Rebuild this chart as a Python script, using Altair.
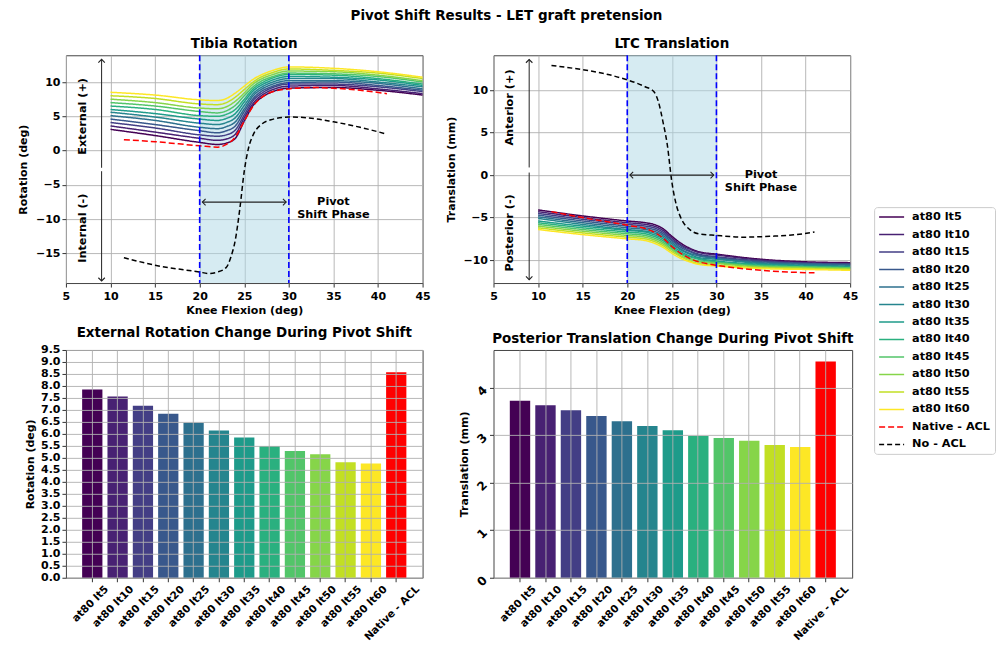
import altair as alt
import pandas as pd

FONT = "DejaVu Sans"

# ---------------- data ----------------
series = ["at80 lt5", "at80 lt10", "at80 lt15", "at80 lt20", "at80 lt25", "at80 lt30",
          "at80 lt35", "at80 lt40", "at80 lt45", "at80 lt50", "at80 lt55", "at80 lt60"]
NATIVE = "Native - ACL"
NOACL = "No - ACL"
viridis = ["#440154", "#482173", "#433e85", "#38588c", "#2d708e", "#25858e",
           "#1e9b8a", "#2ab07f", "#52c569", "#86d549", "#c2df23", "#fde725"]

knee_x = [10, 15, 20, 22, 23, 24, 25, 26, 27, 28, 30, 35, 40, 45]

rot_lt5 = [3.1, 2.2, 1.2, 0.9, 1.1, 1.8, 4.3, 6.6, 7.8, 8.5, 9.1, 9.2, 8.8, 8.1]
rot_lt10 = [3.6, 2.7, 1.8, 1.5, 1.7, 2.4, 4.8, 6.9, 8.1, 8.8, 9.4, 9.5, 9.0, 8.3]
rot_lt15 = [4.1, 3.3, 2.3, 2.1, 2.3, 3.0, 5.2, 7.3, 8.4, 9.1, 9.7, 9.7, 9.3, 8.6]
rot_lt20 = [4.6, 3.8, 2.9, 2.6, 2.9, 3.6, 5.7, 7.6, 8.7, 9.3, 9.9, 10.0, 9.5, 8.8]
rot_lt25 = [5.1, 4.4, 3.4, 3.2, 3.5, 4.2, 6.1, 8.0, 9.0, 9.6, 10.2, 10.2, 9.8, 9.0]
rot_lt30 = [5.6, 4.9, 4.0, 3.8, 4.1, 4.8, 6.6, 8.3, 9.3, 9.9, 10.5, 10.5, 10.0, 9.3]
rot_lt35 = [6.0, 5.4, 4.6, 4.4, 4.7, 5.4, 7.1, 8.7, 9.6, 10.2, 10.8, 10.7, 10.3, 9.5]
rot_lt40 = [6.5, 6.0, 5.1, 5.0, 5.3, 6.0, 7.5, 9.0, 9.9, 10.5, 11.1, 11.0, 10.5, 9.7]
rot_lt45 = [7.0, 6.5, 5.7, 5.5, 5.8, 6.6, 8.0, 9.3, 10.2, 10.7, 11.3, 11.2, 10.8, 10.0]
rot_lt50 = [7.5, 7.0, 6.2, 6.1, 6.4, 7.2, 8.4, 9.7, 10.5, 11.0, 11.6, 11.5, 11.0, 10.2]
rot_lt55 = [8.0, 7.6, 6.8, 6.7, 7.0, 7.8, 8.9, 10.0, 10.8, 11.3, 11.9, 11.7, 11.3, 10.5]
rot_lt60 = [8.5, 8.1, 7.4, 7.3, 7.6, 8.4, 9.4, 10.4, 11.1, 11.6, 12.2, 12.0, 11.5, 10.7]

rot_native_x = [11.5, 15, 20, 22, 23, 24, 25, 26, 27, 28, 30, 33, 35, 38, 41]
rot_native_y = [1.6, 1.3, 0.7, 0.5, 0.9, 2.0, 4.3, 6.5, 7.8, 8.5, 9.0, 9.2, 9.1, 8.8, 8.3]
rot_noacl_x = [11.5, 15, 20, 21, 22, 23, 23.5, 24, 24.5, 25, 25.5, 26, 27, 28, 30, 32, 35, 38, 41]
rot_noacl_y = [-15.6, -16.7, -17.7, -17.9, -17.7, -17.0, -15.5, -13.0, -8.5, -3.0, 0.5, 2.3,
               3.9, 4.5, 4.9, 4.8, 4.2, 3.4, 2.4]

tr_lt5 = [-4.1, -4.8, -5.4, -5.6, -5.8, -6.3, -7.2, -8.0, -8.6, -9.0, -9.3, -9.9, -10.2, -10.3]
tr_lt10 = [-4.3, -5.0, -5.6, -5.8, -6.0, -6.5, -7.4, -8.2, -8.7, -9.1, -9.4, -10.0, -10.3, -10.4]
tr_lt15 = [-4.5, -5.2, -5.8, -6.0, -6.2, -6.7, -7.6, -8.3, -8.9, -9.3, -9.6, -10.1, -10.4, -10.5]
tr_lt20 = [-4.7, -5.4, -6.0, -6.2, -6.4, -6.9, -7.7, -8.5, -9.0, -9.4, -9.7, -10.2, -10.4, -10.5]
tr_lt25 = [-4.9, -5.6, -6.2, -6.4, -6.6, -7.1, -7.9, -8.7, -9.2, -9.5, -9.8, -10.3, -10.5, -10.6]
tr_lt30 = [-5.1, -5.8, -6.4, -6.6, -6.8, -7.3, -8.1, -8.8, -9.3, -9.7, -9.9, -10.4, -10.6, -10.7]
tr_lt35 = [-5.4, -6.0, -6.5, -6.7, -7.0, -7.5, -8.3, -9.0, -9.5, -9.8, -10.1, -10.5, -10.7, -10.8]
tr_lt40 = [-5.6, -6.2, -6.7, -6.9, -7.2, -7.7, -8.5, -9.2, -9.6, -9.9, -10.2, -10.6, -10.8, -10.9]
tr_lt45 = [-5.8, -6.4, -6.9, -7.1, -7.4, -7.9, -8.7, -9.3, -9.8, -10.1, -10.3, -10.7, -10.8, -10.9]
tr_lt50 = [-6.0, -6.6, -7.1, -7.3, -7.6, -8.1, -8.8, -9.5, -9.9, -10.2, -10.4, -10.8, -10.9, -11.0]
tr_lt55 = [-6.2, -6.8, -7.3, -7.5, -7.8, -8.3, -9.0, -9.6, -10.1, -10.4, -10.6, -10.9, -11.0, -11.1]
tr_lt60 = [-6.4, -7.0, -7.5, -7.7, -8.0, -8.5, -9.2, -9.8, -10.2, -10.5, -10.7, -11.0, -11.1, -11.2]

tr_native_x = [11.5, 15, 20, 22, 23, 24, 25, 26, 27, 28, 30, 35, 38, 41]
tr_native_y = [-4.3, -5.0, -5.9, -6.3, -6.7, -7.4, -8.4, -9.2, -9.8, -10.2, -10.6, -11.2, -11.4, -11.5]
tr_noacl_x = [11.5, 15, 18, 20, 22, 23, 23.5, 24, 24.5, 25, 25.5, 26, 27, 28, 30, 33, 36, 39, 41]
tr_noacl_y = [12.9, 12.4, 11.8, 11.2, 10.4, 9.8, 8.6, 6.3, 3.5, -0.8, -3.5, -5.0, -6.4, -6.9,
              -7.1, -7.3, -7.2, -7.0, -6.7]

bar_labels = series + [NATIVE]
rot_change = [7.85, 7.56, 7.17, 6.84, 6.46, 6.14, 5.85, 5.49, 5.29, 5.15, 4.82, 4.76, 8.57]
trans_change = [3.72, 3.63, 3.52, 3.40, 3.29, 3.19, 3.10, 2.98, 2.94, 2.88, 2.79, 2.75, 4.55]

x_ticks = [5, 10, 15, 20, 25, 30, 35, 40, 45]
rot_ticks = [-15, -10, -5, 0, 5, 10]
tr_ticks = [-10, -5, 0, 5, 10]
rot_bar_ticks = [0.0, 0.5, 1.0, 1.5, 2.0, 2.5, 3.0, 3.5, 4.0, 4.5, 5.0, 5.5, 6.0, 6.5, 7.0,
                 7.5, 8.0, 8.5, 9.0, 9.5]
tr_bar_ticks = [0, 1, 2, 3, 4]

span_start, span_end = 20, 30
arrow_x0, arrow_x1 = 20.3, 29.7

# ---------------- styling constants ----------------
W, H = 357, 228
legend_domain = series + [NATIVE, NOACL]
legend_colors = viridis + ["#ff0000", "#000000"]
legend_dash = [[1, 0]] * 12 + [[6, 3], [5, 3]]
legend_width = [1.5] * 12 + [2.0, 1.5]
GRID = "#b0b0b0"


def axis_common(**kw):
    base = dict(labelFont=FONT, labelFontWeight="bold", labelColor="black", labelFontSize=11,
                titleFont=FONT, titleFontWeight="bold", titleColor="black", titleFontSize=11,
                tickSize=4, tickColor="#333333", domain=False, grid=True, gridColor=GRID,
                gridWidth=0.9, labelFlush=False, labelOverlap=False)
    base.update(kw)
    return alt.Axis(**base)


def line_df(curves, nat_x, nat_y, no_x, no_y):
    rows = []
    for name, ys in zip(series, curves):
        for xv, yv in zip(knee_x, ys):
            rows.append({"series": name, "x": xv, "y": yv})
    for xv, yv in zip(nat_x, nat_y):
        rows.append({"series": NATIVE, "x": xv, "y": yv})
    for xv, yv in zip(no_x, no_y):
        rows.append({"series": NOACL, "x": xv, "y": yv})
    return pd.DataFrame(rows)


ARROW_PATHS = {"left": "M1,-1L0,0L1,1", "right": "M-1,-1L0,0L-1,1",
               "up": "M-1,1L0,0L1,1", "down": "M-1,-1L0,0L1,-1"}


def top_panel(df, title, ytitle, ydomain, yticks, arrow_y, vtop, vmid_hi, vmid_lo, vbot,
              lab_hi, lab_hi_y, lab_lo, lab_lo_y, legend):
    xsc = alt.Scale(domain=[5, 45], nice=False, zero=False)
    ysc = alt.Scale(domain=ydomain, nice=False, zero=False)

    span = alt.Chart(pd.DataFrame({"x": [span_start], "x2": [span_end]})).mark_rect(
        color="#add8e6", opacity=0.5
    ).encode(
        x=alt.X("x:Q", scale=xsc, axis=axis_common(title="Knee Flexion (deg)", values=x_ticks,
                                                    labelPadding=3, titlePadding=3)),
        x2="x2:Q",
        y=alt.value(0), y2=alt.value(H),
    )

    leg = None
    if legend:
        leg = alt.Legend(title=None, orient="none", legendX=381, legendY=152,
                         symbolType="M-1,0L4,0", symbolSize=100, symbolStrokeWidth=1.5,
                         labelFont=FONT, labelFontWeight="bold", labelFontSize=11.3,
                         labelColor="black", labelOffset=22, rowPadding=5.5, padding=4,
                         strokeColor="#cccccc", fillColor="white", cornerRadius=3)

    lines = alt.Chart(df).mark_line(interpolate="monotone").encode(
        x=alt.X("x:Q", scale=xsc),
        y=alt.Y("y:Q", scale=ysc, axis=axis_common(title=ytitle, values=yticks,
                                                    labelPadding=2, titlePadding=7)),
        color=alt.Color("series:N", scale=alt.Scale(domain=legend_domain, range=legend_colors),
                        legend=leg, sort=legend_domain),
        strokeDash=alt.StrokeDash("series:N", scale=alt.Scale(domain=legend_domain, range=legend_dash),
                                  legend=leg, sort=legend_domain),
        strokeWidth=alt.StrokeWidth("series:N", scale=alt.Scale(domain=legend_domain, range=legend_width),
                                    legend=None),
    )

    vlines = alt.Chart(pd.DataFrame({"x": [span_start, span_end]})).mark_rule(
        color="#0000ff", strokeDash=[6, 3], strokeWidth=1.6
    ).encode(x="x:Q")

    harrow = alt.Chart(pd.DataFrame({"x": [arrow_x0], "x2": [arrow_x1], "y": [arrow_y]})).mark_rule(
        color="#222222", strokeWidth=1.1
    ).encode(x="x:Q", x2="x2:Q", y="y:Q")

    varrow = alt.Chart(pd.DataFrame({"x": [9, 9], "y": [vmid_hi, vmid_lo], "y2": [vtop, vbot]})).mark_rule(
        color="#222222", strokeWidth=1.0
    ).encode(x="x:Q", y="y:Q", y2="y2:Q")

    heads = alt.Chart(pd.DataFrame({
        "x": [arrow_x0, arrow_x1, 9, 9],
        "y": [arrow_y, arrow_y, vtop, vbot],
        "dir": ["left", "right", "up", "down"],
    })).mark_point(filled=False, opacity=1, size=42, strokeWidth=1.1, color="#222222").encode(
        x="x:Q", y="y:Q",
        shape=alt.Shape("dir:N", scale=alt.Scale(domain=list(ARROW_PATHS.keys()),
                                                 range=list(ARROW_PATHS.values())), legend=None),
    )

    phase = alt.Chart(pd.DataFrame({"x": [35], "y": [arrow_y], "t": ["Pivot\nShift Phase"]})).mark_text(
        font=FONT, fontWeight="bold", fontSize=11.3, lineBreak="\n", align="center",
        baseline="middle", color="black", lineHeight=13
    ).encode(x="x:Q", y="y:Q", text="t:N")

    side = alt.Chart(pd.DataFrame({"x": [6.9, 6.9], "y": [lab_hi_y, lab_lo_y], "t": [lab_hi, lab_lo]})).mark_text(
        font=FONT, fontWeight="bold", fontSize=11.3, angle=270, align="center", baseline="middle",
        color="black"
    ).encode(x="x:Q", y="y:Q", text="t:N")

    return alt.layer(span, lines, vlines, harrow, varrow, heads, phase, side).properties(
        width=W, height=H,
        title=alt.TitleParams(title, font=FONT, fontSize=13.5, fontWeight="bold", color="black", offset=4),
    )


def bar_panel(vals, title, ytitle, ydomain, yticks, yfmt, ylab_angle, ylab_size, ylab_pad, width):
    df = pd.DataFrame({"cat": bar_labels, "val": vals})
    return alt.Chart(df).mark_bar().encode(
        x=alt.X("cat:N", sort=bar_labels, title=None,
                scale=alt.Scale(paddingInner=0.2, paddingOuter=0.64),
                axis=axis_common(labelAngle=315, labelAlign="right", labelBaseline="top",
                                 labelPadding=2, labelFontSize=10.5, zindex=1,
                                 labelOffset={"condition": {"test": "datum.value == 'Native - ACL'",
                                                            "value": 18}, "value": 11})),
        y=alt.Y("val:Q", scale=alt.Scale(domain=ydomain, nice=False, zero=True),
                axis=axis_common(title=ytitle, values=yticks, format=yfmt, labelAngle=ylab_angle,
                                 labelFontSize=ylab_size, labelPadding=ylab_pad, zindex=1,
                                 titlePadding=5)),
        color=alt.Color("cat:N", scale=alt.Scale(domain=bar_labels, range=viridis + ["#ff0000"]),
                        legend=None),
    ).properties(
        width=width, height=H,
        title=alt.TitleParams(title, font=FONT, fontSize=13.5, fontWeight="bold", color="black", offset=4),
    )


rot_df = line_df([rot_lt5, rot_lt10, rot_lt15, rot_lt20, rot_lt25, rot_lt30, rot_lt35, rot_lt40,
                  rot_lt45, rot_lt50, rot_lt55, rot_lt60], rot_native_x, rot_native_y,
                 rot_noacl_x, rot_noacl_y)
tr_df = line_df([tr_lt5, tr_lt10, tr_lt15, tr_lt20, tr_lt25, tr_lt30, tr_lt35, tr_lt40,
                 tr_lt45, tr_lt50, tr_lt55, tr_lt60], tr_native_x, tr_native_y,
                tr_noacl_x, tr_noacl_y)

p1 = top_panel(rot_df, "Tibia Rotation", "Rotation (deg)", [-19.3, 13.9], rot_ticks, -7.5,
               13.3, -2.5, -3.0, -19.0, "External (+)", 5.0, "Internal (-)", -11.3, False)
p2 = top_panel(tr_df, "LTC Translation", "Translation (mm)", [-12.7, 14.1], tr_ticks, 0,
               13.6, 0.9, 0.3, -12.3, "Anterior (+)", 7.95, "Posterior (-)", -6.8, True)
p3 = bar_panel(rot_change, "External Rotation Change During Pivot Shift", "Rotation (deg)",
               [0, 9.5], rot_bar_ticks, ".1f", 0, 11, 2, W)
p4 = bar_panel(trans_change, "Posterior Translation Change During Pivot Shift", "Translation (mm)",
               [0, 4.79], tr_bar_ticks, "d", 315, 12, 5, 359)

chart = alt.concat(p1, p2, p3, p4, columns=2, bounds="flush",
                   spacing={"row": 67, "column": 71}).resolve_scale(
    color="independent", strokeDash="independent", strokeWidth="independent"
).properties(
    title=alt.TitleParams("Pivot Shift Results - LET graft pretension", font=FONT, fontSize=13.5,
                          fontWeight="bold", color="black", anchor="middle", offset=14),
    padding={"left": 16, "top": 8, "right": 12, "bottom": 5},
).configure_view(stroke="#444444", strokeWidth=1)

chart.save("out.html", embed_options={"renderer": "svg", "actions": False})
